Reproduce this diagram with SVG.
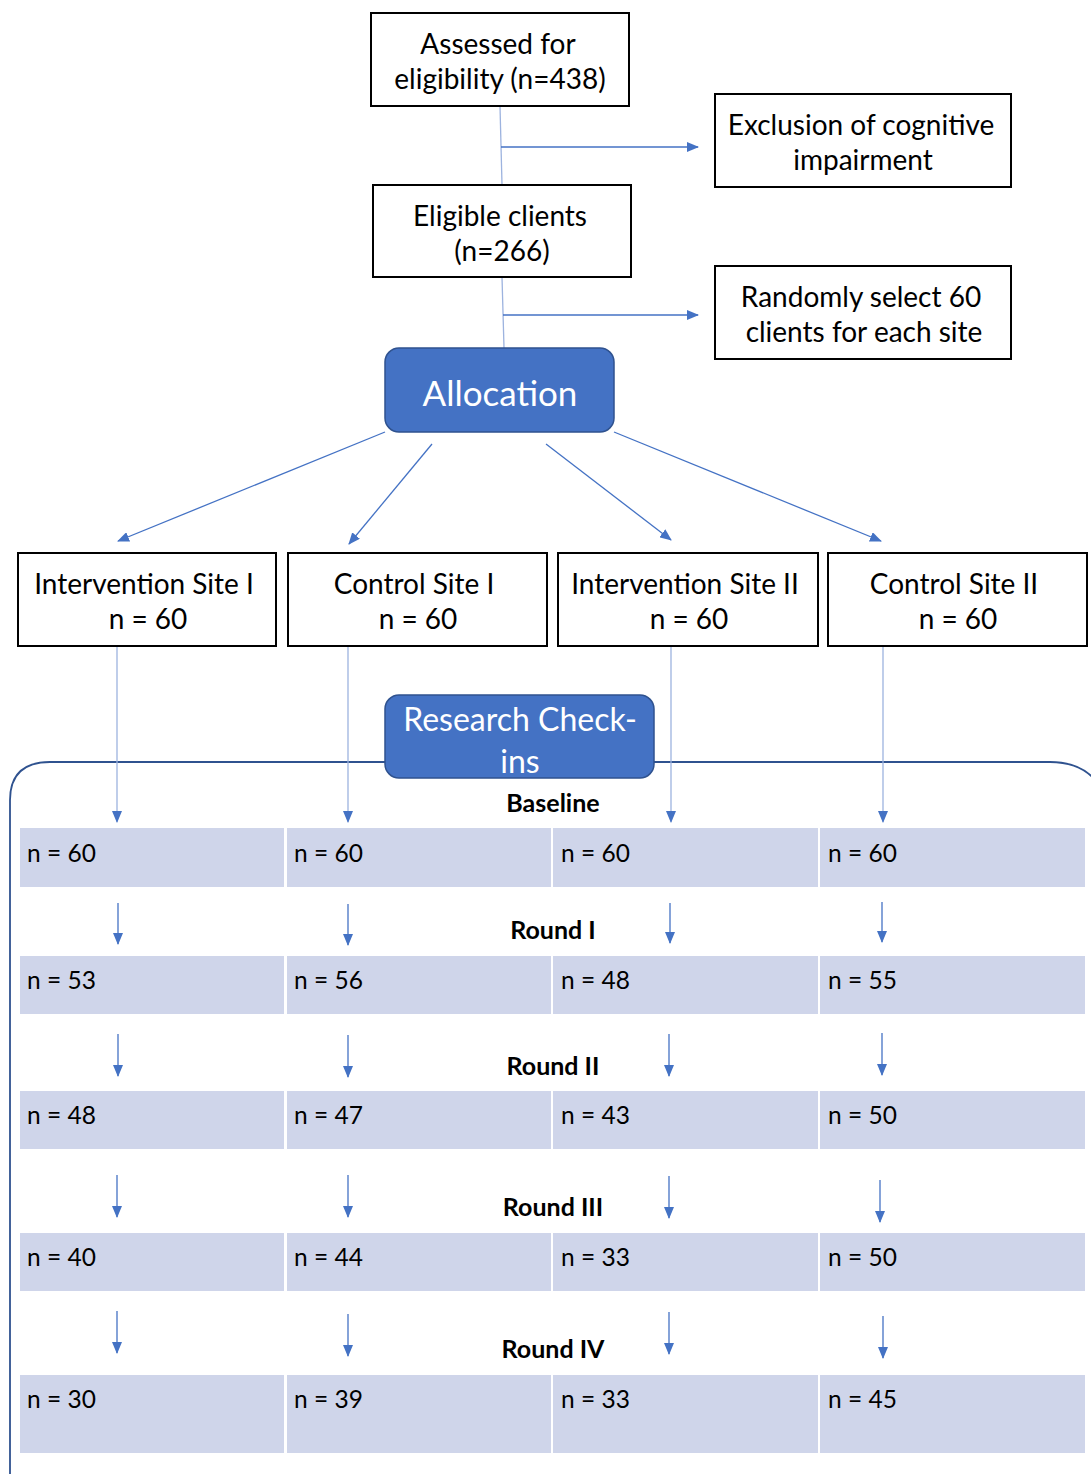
<svg xmlns="http://www.w3.org/2000/svg" width="1091" height="1474" viewBox="0 0 1091 1474">
<style>
.box{fill:#fff;stroke:#000;stroke-width:2}
.blue{fill:#4472C4;stroke:#2F528F;stroke-width:1.5}
.t{font-family:Lato,"Liberation Sans",sans-serif;font-size:28px;fill:#000;text-anchor:middle}
.tw{font-family:Lato,"Liberation Sans",sans-serif;font-size:35px;fill:#fff;text-anchor:middle}
.cell{fill:#CFD5EA}
.n{font-family:Lato,"Liberation Sans",sans-serif;font-size:24.5px;fill:#000}
.lbl{font-family:Lato,"Liberation Sans",sans-serif;font-size:25px;font-weight:bold;fill:#000;text-anchor:middle}
.c{stroke:#4472C4;stroke-width:1.3;fill:none}
.cl{stroke:#9DB3DF;stroke-width:1.3;fill:none}
</style>
<defs>
<marker id="ah" markerWidth="12" markerHeight="10" refX="11" refY="5" orient="auto" markerUnits="userSpaceOnUse">
<path d="M0,0 L12,5 L0,10 Z" fill="#4472C4"/>
</marker>
</defs>

<g id="container">
<path d="M10,1474 L10,800 Q10,762 50,762 L1050,762 Q1080,762 1095,780" fill="none" stroke="#2F528F" stroke-width="1.8"/>
</g>

<g id="connectors">
<line class="cl" x1="500" y1="106" x2="502" y2="185"/>
<line class="c" x1="501" y1="147" x2="698" y2="147" marker-end="url(#ah)"/>
<line class="cl" x1="502" y1="277" x2="504" y2="348"/>
<line class="c" x1="503" y1="315" x2="698" y2="315" marker-end="url(#ah)"/>
<line class="c" x1="385" y1="432" x2="118" y2="541" marker-end="url(#ah)"/>
<line class="c" x1="432" y1="444" x2="349" y2="544" marker-end="url(#ah)"/>
<line class="c" x1="546" y1="444" x2="671" y2="540" marker-end="url(#ah)"/>
<line class="c" x1="614" y1="432" x2="881" y2="541" marker-end="url(#ah)"/>
<line class="cl" x1="117" y1="646" x2="117" y2="822" marker-end="url(#ah)"/>
<line class="cl" x1="348" y1="646" x2="348" y2="822" marker-end="url(#ah)"/>
<line class="cl" x1="671" y1="646" x2="671" y2="822" marker-end="url(#ah)"/>
<line class="cl" x1="883" y1="646" x2="883" y2="822" marker-end="url(#ah)"/>
<line class="c" x1="118" y1="903" x2="118" y2="944" marker-end="url(#ah)"/>
<line class="c" x1="348" y1="904" x2="348" y2="945" marker-end="url(#ah)"/>
<line class="c" x1="670" y1="903" x2="670" y2="943" marker-end="url(#ah)"/>
<line class="c" x1="882" y1="902" x2="882" y2="942" marker-end="url(#ah)"/>
<line class="c" x1="118" y1="1034" x2="118" y2="1076" marker-end="url(#ah)"/>
<line class="c" x1="348" y1="1035" x2="348" y2="1077" marker-end="url(#ah)"/>
<line class="c" x1="669" y1="1034" x2="669" y2="1076" marker-end="url(#ah)"/>
<line class="c" x1="882" y1="1033" x2="882" y2="1075" marker-end="url(#ah)"/>
<line class="c" x1="117" y1="1175" x2="117" y2="1217" marker-end="url(#ah)"/>
<line class="c" x1="348" y1="1175" x2="348" y2="1217" marker-end="url(#ah)"/>
<line class="c" x1="669" y1="1176" x2="669" y2="1218" marker-end="url(#ah)"/>
<line class="c" x1="880" y1="1180" x2="880" y2="1222" marker-end="url(#ah)"/>
<line class="c" x1="117" y1="1311" x2="117" y2="1353" marker-end="url(#ah)"/>
<line class="c" x1="348" y1="1314" x2="348" y2="1356" marker-end="url(#ah)"/>
<line class="c" x1="669" y1="1312" x2="669" y2="1354" marker-end="url(#ah)"/>
<line class="c" x1="883" y1="1316" x2="883" y2="1358" marker-end="url(#ah)"/>
</g>

<g id="assessed"><rect class="box" x="371" y="13" width="258" height="93"/>
<text class="t" x="498" y="54">Assessed for</text><text class="t" x="500" y="89">eligibility (n=438)</text></g>
<g id="exclusion"><rect class="box" x="715" y="94" width="296" height="93"/>
<text class="t" x="861" y="135">Exclusion of cognitive</text><text class="t" x="863" y="170">impairment</text></g>
<g id="eligible"><rect class="box" x="373" y="185" width="258" height="92"/>
<text class="t" x="500" y="226">Eligible clients</text><text class="t" x="502" y="261">(n=266)</text></g>
<g id="random"><rect class="box" x="715" y="266" width="296" height="93"/>
<text class="t" x="861" y="307">Randomly select 60</text><text class="t" x="864" y="342">clients for each site</text></g>
<g id="allocation"><rect class="blue" x="385" y="348" width="229" height="84" rx="14"/>
<text class="tw" x="500" y="406">Allocation</text></g>

<g id="site1"><rect class="box" x="18" y="553" width="258" height="93"/>
<text class="t" x="144" y="594">Intervention Site I</text><text class="t" x="148" y="629">n = 60</text></g>
<g id="site2"><rect class="box" x="288" y="553" width="259" height="93"/>
<text class="t" x="414" y="594">Control Site I</text><text class="t" x="418" y="629">n = 60</text></g>
<g id="site3"><rect class="box" x="558" y="553" width="260" height="93"/>
<text class="t" x="685" y="594">Intervention Site II</text><text class="t" x="689" y="629">n = 60</text></g>
<g id="site4"><rect class="box" x="828" y="553" width="259" height="93"/>
<text class="t" x="954" y="594">Control Site II</text><text class="t" x="958" y="629">n = 60</text></g>

<g id="checkins"><rect class="blue" x="385" y="695" width="269" height="83" rx="14"/>
<text class="tw" x="520" y="731" style="font-size:32px">Research Check-</text><text class="tw" x="520" y="773" style="font-size:32px">ins</text></g>

<g id="labels">
<text class="lbl" x="553" y="812">Baseline</text>
<text class="lbl" x="553" y="939">Round I</text>
<text class="lbl" x="553" y="1075">Round II</text>
<text class="lbl" x="553" y="1216">Round III</text>
<text class="lbl" x="553" y="1358">Round IV</text>
</g>

<g id="row-baseline">
<rect class="cell" x="20" y="828" width="264" height="59"/><rect class="cell" x="287" y="828" width="264" height="59"/><rect class="cell" x="553" y="828" width="265" height="59"/><rect class="cell" x="820" y="828" width="265" height="59"/>
<text class="n" x="27" y="862">n = 60</text><text class="n" x="294" y="862">n = 60</text><text class="n" x="561" y="862">n = 60</text><text class="n" x="828" y="862">n = 60</text>
</g>
<g id="row-round1">
<rect class="cell" x="20" y="956" width="264" height="58"/><rect class="cell" x="287" y="956" width="264" height="58"/><rect class="cell" x="553" y="956" width="265" height="58"/><rect class="cell" x="820" y="956" width="265" height="58"/>
<text class="n" x="27" y="989">n = 53</text><text class="n" x="294" y="989">n = 56</text><text class="n" x="561" y="989">n = 48</text><text class="n" x="828" y="989">n = 55</text>
</g>
<g id="row-round2">
<rect class="cell" x="20" y="1091" width="264" height="58"/><rect class="cell" x="287" y="1091" width="264" height="58"/><rect class="cell" x="553" y="1091" width="265" height="58"/><rect class="cell" x="820" y="1091" width="265" height="58"/>
<text class="n" x="27" y="1124">n = 48</text><text class="n" x="294" y="1124">n = 47</text><text class="n" x="561" y="1124">n = 43</text><text class="n" x="828" y="1124">n = 50</text>
</g>
<g id="row-round3">
<rect class="cell" x="20" y="1233" width="264" height="58"/><rect class="cell" x="287" y="1233" width="264" height="58"/><rect class="cell" x="553" y="1233" width="265" height="58"/><rect class="cell" x="820" y="1233" width="265" height="58"/>
<text class="n" x="27" y="1266">n = 40</text><text class="n" x="294" y="1266">n = 44</text><text class="n" x="561" y="1266">n = 33</text><text class="n" x="828" y="1266">n = 50</text>
</g>
<g id="row-round4">
<rect class="cell" x="20" y="1375" width="264" height="78"/><rect class="cell" x="287" y="1375" width="264" height="78"/><rect class="cell" x="553" y="1375" width="265" height="78"/><rect class="cell" x="820" y="1375" width="265" height="78"/>
<text class="n" x="27" y="1408">n = 30</text><text class="n" x="294" y="1408">n = 39</text><text class="n" x="561" y="1408">n = 33</text><text class="n" x="828" y="1408">n = 45</text>
</g>
</svg>
